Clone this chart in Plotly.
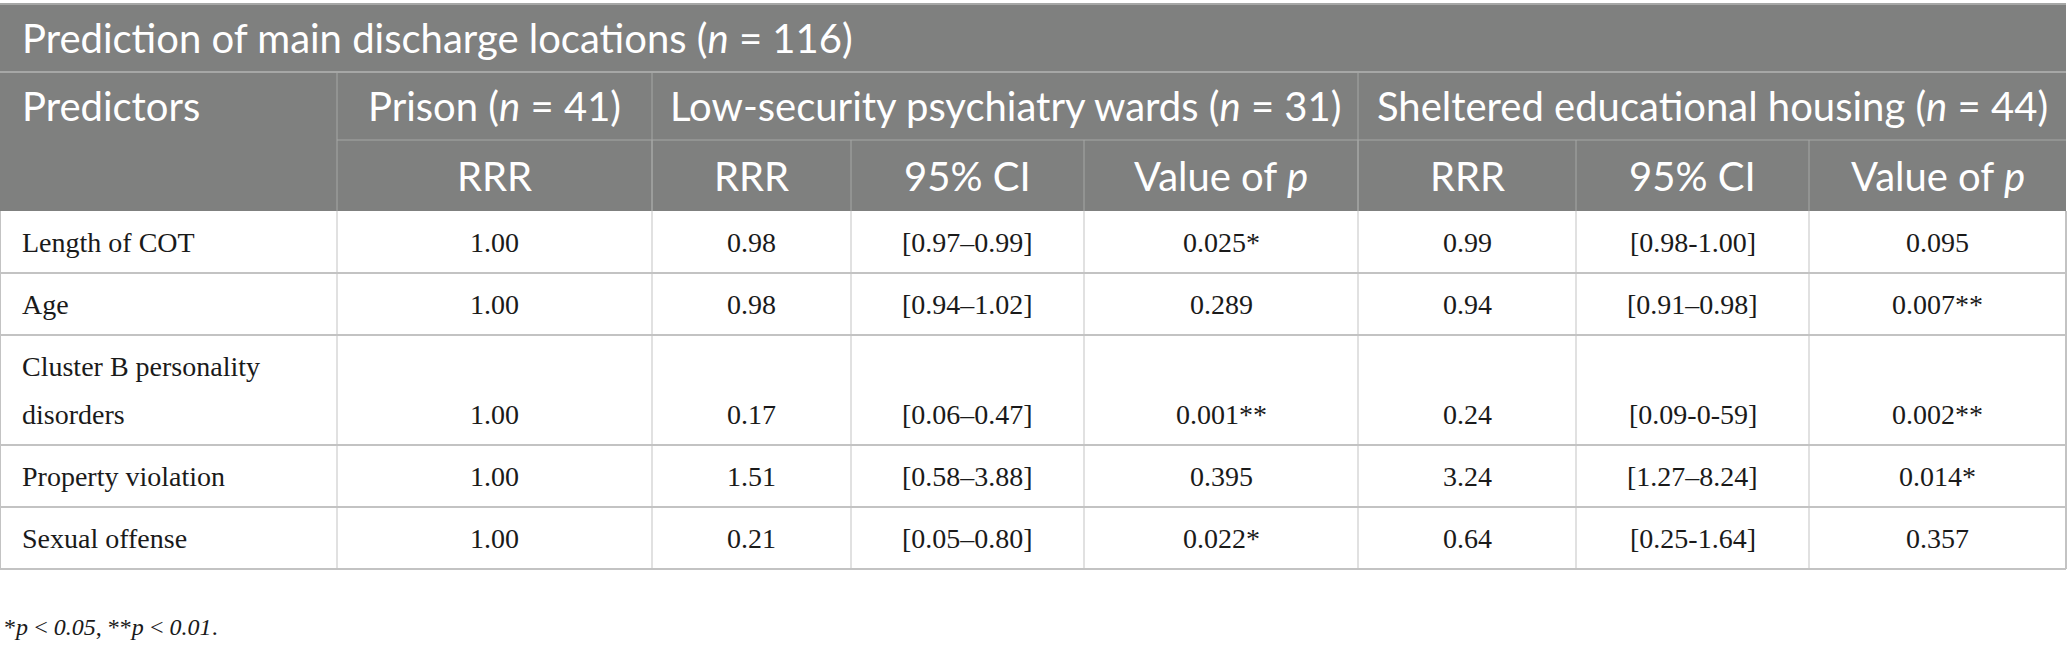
import plotly.graph_objects as go

# table contents
title = "Prediction of main discharge locations (<i>n</i> = 116)"
groups = ["Predictors", "Prison (<i>n</i> = 41)",
          "Low-security psychiatry wards (<i>n</i> = 31)",
          "Sheltered educational housing (<i>n</i> = 44)"]
sub_headers = ["", "RRR", "RRR", "95% CI", "Value of <i>p</i>",
               "RRR", "95% CI", "Value of <i>p</i>"]

predictors = ["Length of COT", "Age", "Cluster B personality\ndisorders",
              "Property violation", "Sexual offense"]
prison_rrr = ["1.00", "1.00", "1.00", "1.00", "1.00"]
low_rrr = ["0.98", "0.98", "0.17", "1.51", "0.21"]
low_ci = ["[0.97–0.99]", "[0.94–1.02]", "[0.06–0.47]", "[0.58–3.88]", "[0.05–0.80]"]
low_p = ["0.025*", "0.289", "0.001**", "0.395", "0.022*"]
shel_rrr = ["0.99", "0.94", "0.24", "3.24", "0.64"]
shel_ci = ["[0.98-1.00]", "[0.91–0.98]", "[0.09-0-59]", "[1.27–8.24]", "[0.25-1.64]"]
shel_p = ["0.095", "0.007**", "0.002**", "0.014*", "0.357"]

footnote = "*<i>p\u2009&lt;\u20090.05</i>, **<i>p\u2009&lt;\u20090.01</i>."

# layout of the grid (pixel units)
W, H = 2068, 648
col_edges = [0, 337, 652, 851, 1084, 1358, 1576, 1809, 2066]
group_span = [(0, 1), (1, 2), (2, 5), (5, 8)]
head_edges = [4, 72, 140, 211]
row_h, line_gap = 62, 48

HEAD_BG = "#7f807f"
HEAD_LINE = "#a6a7a6"
BODY_LINE = "#c3c3c3"
SANS = "Lato"
SERIF = "Liberation Serif"
HEAD_SIZE = 40
BODY_SIZE = 28

columns = [predictors, prison_rrr, low_rrr, low_ci, low_p, shel_rrr, shel_ci, shel_p]

# row edges from number of lines in the predictor label
row_edges = [head_edges[-1]]
for p in predictors:
    row_edges.append(row_edges[-1] + row_h + line_gap * p.count("\n"))

fig = go.Figure()
fig.add_trace(go.Scatter(x=[0, W], y=[0, H], mode="markers",
                         marker=dict(opacity=0), hoverinfo="skip", showlegend=False))

shapes = []
ann = []


def hline(y, x0, x1, color, w=1):
    shapes.append(dict(type="line", xref="x", yref="y", x0=x0, x1=x1, y0=y, y1=y,
                       line=dict(color=color, width=w)))


def vline(x, y0, y1, color, w=1):
    shapes.append(dict(type="line", xref="x", yref="y", x0=x, x1=x, y0=y0, y1=y1,
                       line=dict(color=color, width=w)))


def text(x, y, s, font, size, color="white", align="center"):
    ann.append(dict(x=x, y=y, xref="x", yref="y", text=s, showarrow=False,
                    xanchor=align, yanchor="middle",
                    font=dict(family=font, size=size, color=color)))


# header block
shapes.append(dict(type="rect", xref="x", yref="y", x0=col_edges[0], x1=col_edges[-1],
                   y0=head_edges[0], y1=head_edges[-1], fillcolor=HEAD_BG,
                   line=dict(width=0), layer="below"))
hline(head_edges[0], col_edges[0], col_edges[-1], HEAD_LINE, 2)
hline(head_edges[1], col_edges[0], col_edges[-1], HEAD_LINE, 2)
hline(head_edges[2], col_edges[1], col_edges[-1], HEAD_LINE, 1)
for a, b in group_span[1:]:
    vline(col_edges[a], head_edges[1], head_edges[3], HEAD_LINE)
for i in range(2, 8):
    vline(col_edges[i], head_edges[2], head_edges[3], HEAD_LINE)

text(20, (head_edges[0] + head_edges[1]) / 2, title, SANS, HEAD_SIZE, align="left")
mid2 = (head_edges[1] + head_edges[2]) / 2
for g, (a, b) in zip(groups, group_span):
    if a == 0:
        text(20, mid2, g, SANS, HEAD_SIZE, align="left")
    else:
        text((col_edges[a] + col_edges[b]) / 2, mid2, g, SANS, HEAD_SIZE)
mid3 = (head_edges[2] + head_edges[3]) / 2
for i, s in enumerate(sub_headers):
    if s:
        text((col_edges[i] + col_edges[i + 1]) / 2, mid3, s, SANS, HEAD_SIZE)

# body grid
for y in row_edges[1:]:
    hline(y, col_edges[0], col_edges[-1], BODY_LINE, 2)
for x in col_edges:
    vline(x, row_edges[0], row_edges[-1], BODY_LINE, 2 if x in (col_edges[0], col_edges[-1]) else 1)

# body text
for r, p in enumerate(predictors):
    lines = p.split("\n")
    mid = (row_edges[r] + row_edges[r + 1]) / 2
    ys = [mid + (k - (len(lines) - 1) / 2) * line_gap for k in range(len(lines))]
    for ln, y in zip(lines, ys):
        text(20, y, ln, SERIF, BODY_SIZE, color="#1a1a1a", align="left")
    for c in range(1, 8):
        text((col_edges[c] + col_edges[c + 1]) / 2, ys[-1], columns[c][r], SERIF, BODY_SIZE,
             color="#1a1a1a")

text(2, 627, footnote, SERIF, 24, color="#1a1a1a", align="left")

fig.update_layout(
    width=W, height=H,
    margin=dict(l=0, r=0, t=0, b=0),
    paper_bgcolor="white", plot_bgcolor="white",
    xaxis=dict(range=[0, W], visible=False, fixedrange=True),
    yaxis=dict(range=[H, 0], visible=False, fixedrange=True),
    shapes=shapes, annotations=ann,
)
fig.write_html("out.html", config={"displayModeBar": False},
               post_script="document.body.style.margin='0';")
